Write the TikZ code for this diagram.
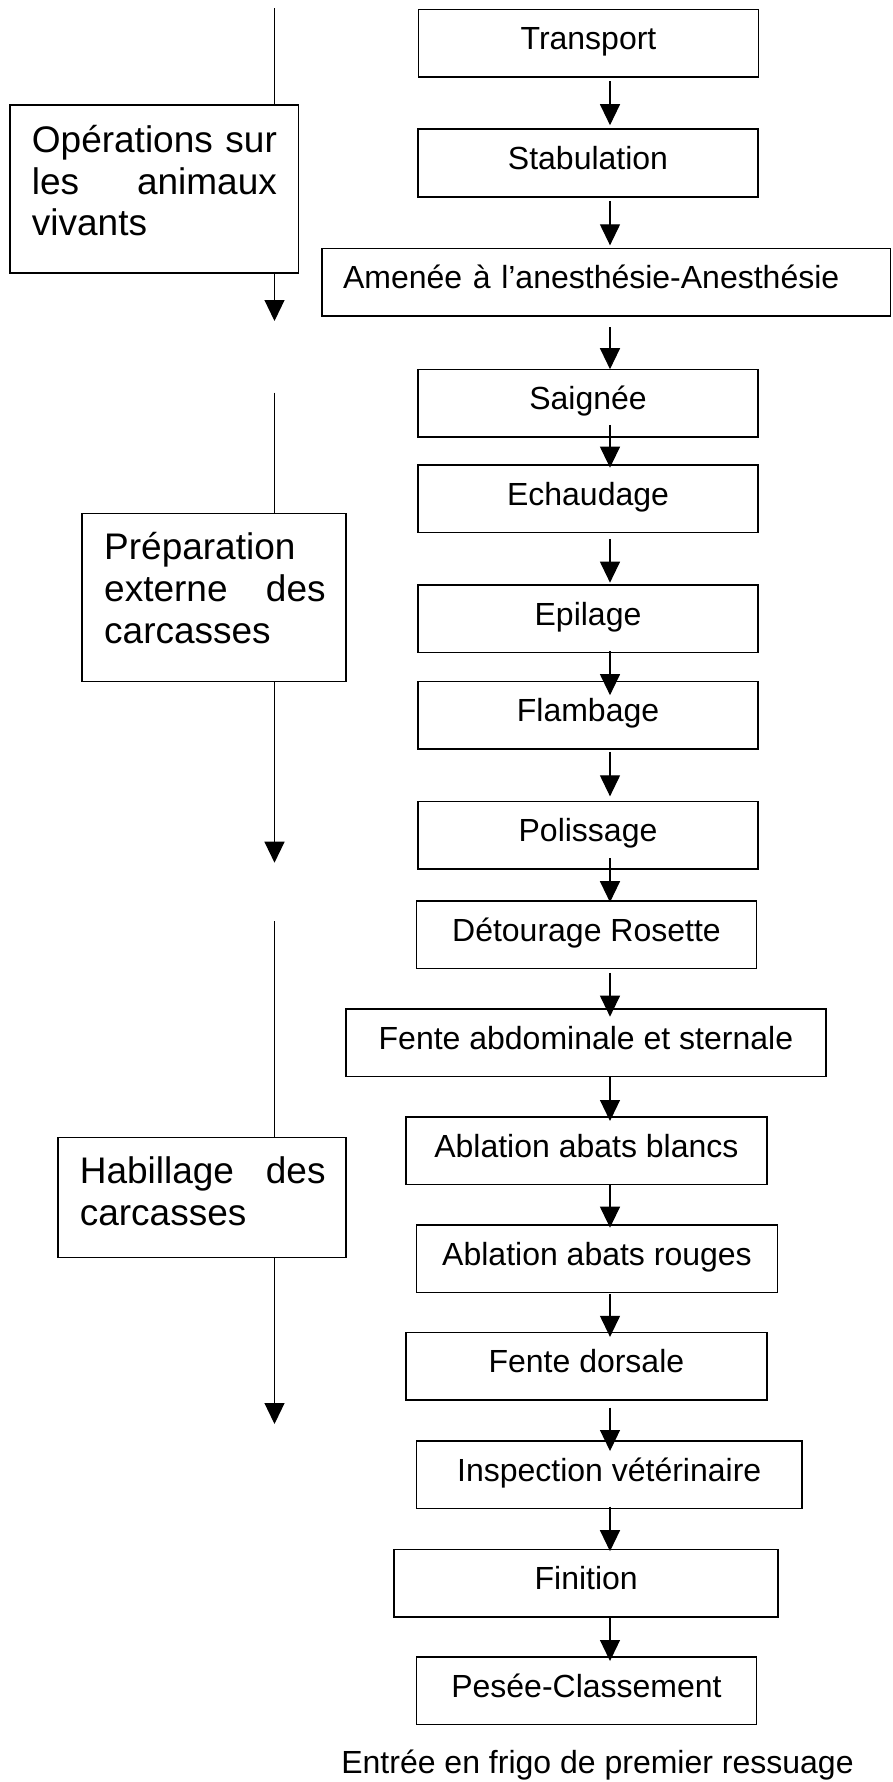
\documentclass[tikz,border=0pt]{standalone}
\usepackage{fontspec}
\setmainfont{Liberation Sans}
\usetikzlibrary{arrows.meta}
\begin{document}
\begin{tikzpicture}[x=1pt,y=-1pt,
  flow/.style={draw, line width=1.5pt, minimum height=67.5pt, inner sep=0pt,
    text height=22pt, text depth=9pt, font=\fontsize{32pt}{37pt}\selectfont},
  phase/.style={draw, line width=1.5pt, inner sep=0pt},
  phasetext/.style={anchor=base west, inner sep=0pt, align=left,
    font=\fontsize{37pt}{41.7pt}\selectfont},
  arr/.style={line width=1.2pt, -{Triangle[length=21pt,width=20pt]}},
  lane/.style={line width=1.2pt}]
\useasboundingbox (0,0) rectangle (892,1782);

% process boxes
\node[flow, minimum width=340pt] (transport) at (588.5,43.3) {Transport};
\node[flow, minimum width=340pt] (stab) at (588,163) {Stabulation};
\node[flow, minimum width=568.5pt, text width=526.5pt, inner xsep=21pt, align=left] (amenee) at (606.25,282.15) {Amenée à l’anesthésie-Anesthésie};
\node[flow, minimum width=340pt] (saignee) at (588,403) {Saignée};
\node[flow, minimum width=340pt] (echaud) at (588,498.85) {Echaudage};
\node[flow, minimum width=340pt] (epil) at (588,618.85) {Epilage};
\node[flow, minimum width=340pt] (flamb) at (588,715.35) {Flambage};
\node[flow, minimum width=340pt] (poli) at (588,835.15) {Polissage};
\node[flow, minimum width=340.1pt] (detour) at (586.45,934.7) {Détourage Rosette};
\node[flow, minimum width=480.2pt] (fabdo) at (585.9,1042.85) {Fente abdominale et sternale};
\node[flow, minimum width=360.8pt] (ablb) at (586.4,1150.5) {Ablation abats blancs};
\node[flow, minimum width=361.2pt] (ablr) at (597,1258.85) {Ablation abats rouges};
\node[flow, minimum width=360.8pt] (fdors) at (586.4,1366.35) {Fente dorsale};
\node[flow, minimum width=385.6pt] (insp) at (609.2,1474.5) {Inspection vétérinaire};
\node[flow, minimum width=384pt] (fini) at (586.2,1583.3) {Finition};
\node[flow, minimum width=340.1pt] (pesee) at (586.45,1690.5) {Pesée-Classement};
\node[anchor=base, inner sep=0pt, font=\fontsize{32pt}{37pt}\selectfont] (entree) at (597.5,1773) {Entrée en frigo de premier ressuage};

% arrows of the main flow
\coordinate (ax) at (610,0);
\draw[arr, shorten <=3.3pt, shorten >=3.3pt] (transport.south -| ax) -- (stab.north -| ax);
\draw[arr, shorten <=3.3pt, shorten >=2.3pt] (stab.south -| ax) -- (amenee.north -| ax);
\draw[arr, shorten <=10.7pt, shorten >=-0.7pt] (amenee.south -| ax) -- (saignee.north -| ax);
\draw[arr, shorten <=-12.7pt, shorten >=-3.3pt] (saignee.south -| ax) -- (echaud.north -| ax);
\draw[arr, shorten <=5.6pt, shorten >=1.7pt] (echaud.south -| ax) -- (epil.north -| ax);
\draw[arr, shorten <=-2pt, shorten >=-14.3pt] (epil.south -| ax) -- (flamb.north -| ax);
\draw[arr, shorten <=2pt, shorten >=4.3pt] (flamb.south -| ax) -- (poli.north -| ax);
\draw[arr, shorten <=-11.6pt, shorten >=-2pt] (poli.south -| ax) -- (detour.north -| ax);
\draw[arr, shorten <=3.6pt, shorten >=-8.3pt] (detour.south -| ax) -- (fabdo.north -| ax);
\draw[arr, shorten <=0pt, shorten >=-5pt] (fabdo.south -| ax) -- (ablb.north -| ax);
\draw[arr, shorten <=0pt, shorten >=-3.3pt] (ablb.south -| ax) -- (ablr.north -| ax);
\draw[arr, shorten <=0.6pt, shorten >=-5pt] (ablr.south -| ax) -- (fdors.north -| ax);
\draw[arr, shorten <=6.7pt, shorten >=-11pt] (fdors.south -| ax) -- (insp.north -| ax);
\draw[arr, shorten <=-2.3pt, shorten >=-2.4pt] (insp.south -| ax) -- (fini.north -| ax);
\draw[arr, shorten <=0pt, shorten >=-5pt] (fini.south -| ax) -- (pesee.north -| ax);

% phase boxes
\node[phase, minimum width=288.3pt, minimum height=168pt] (b1) at (154.15,189) {};
\node[phase, minimum width=264pt, minimum height=168.4pt] (b2) at (214,597.5) {};
\node[phase, minimum width=287.8pt, minimum height=120pt] (b3) at (201.9,1197.3) {};
\node[phasetext, text width=245pt] (t1) at (31.7,152.5) {\makebox[245pt]{Opérations\hfill sur}\\\makebox[245pt]{les\hfill animaux}\\vivants};
\node[phasetext, text width=221.4pt] (t2) at (104,559.8) {Préparation\\\makebox[221.4pt]{externe\hfill des}\\carcasses};
\node[phasetext, text width=245.8pt] (t3) at (79.6,1183.8) {\makebox[245.8pt]{Habillage\hfill des}\\carcasses};

% phase lanes
\coordinate (l1a) at (274.5,8.3);
\coordinate (l1b) at (274.5,321);
\coordinate (l2a) at (274.5,392.7);
\coordinate (l2b) at (274.5,862.7);
\coordinate (l3a) at (274.5,921);
\coordinate (l3b) at (274.5,1424);
\draw[lane] (l1a) -- (b1.north -| l1a);
\draw[arr] (b1.south -| l1a) -- (l1b);
\draw[lane] (l2a) -- (b2.north -| l2a);
\draw[arr] (b2.south -| l2a) -- (l2b);
\draw[lane] (l3a) -- (b3.north -| l3a);
\draw[arr] (b3.south -| l3a) -- (l3b);
\end{tikzpicture}
\end{document}
